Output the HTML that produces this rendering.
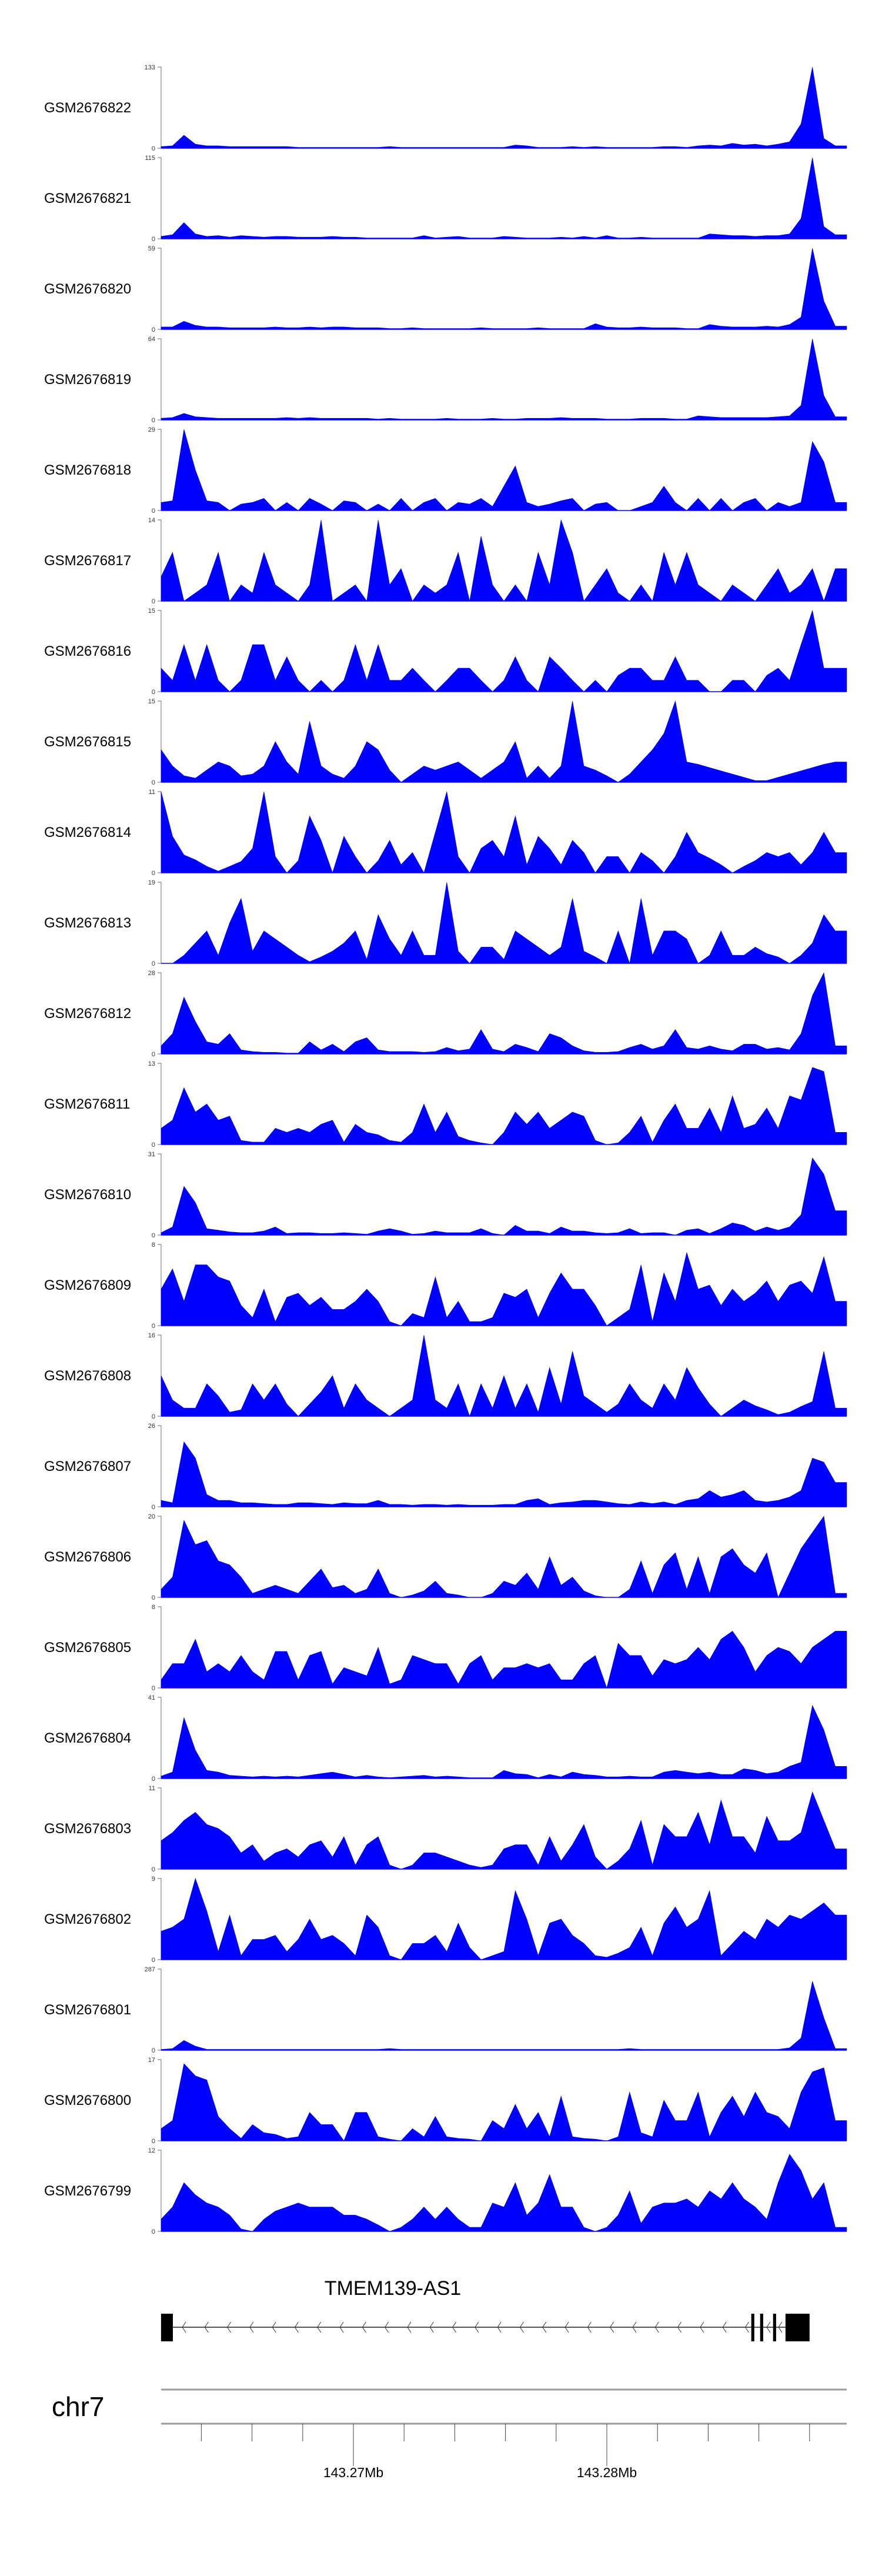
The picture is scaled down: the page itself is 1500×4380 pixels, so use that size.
<!DOCTYPE html>
<html><head><meta charset="utf-8"><style>
html,body{margin:0;padding:0;background:#fff;}
svg{display:block;font-family:"Liberation Sans",Arial,sans-serif;}
</style></head><body>
<svg id="chart" xmlns="http://www.w3.org/2000/svg" width="1500" height="4380" viewBox="0 0 1500 4380">
<rect x="0" y="0" width="1500" height="4380" fill="#fff"/>
<g id="tracks"></g>
<g id="gene">
<text x="668" y="3902" font-size="34" text-anchor="middle">TMEM139-AS1</text>
</g>
<g id="axis">
<text x="88" y="4108" font-size="46">chr7</text>
<line x1="274" y1="4063" x2="1440" y2="4063" stroke="#999" stroke-width="3"/>
<line x1="274" y1="4121" x2="1440" y2="4121" stroke="#999" stroke-width="3"/>
</g>
</svg>
<script>
const sampleNames = ["GSM2676822","GSM2676821","GSM2676820","GSM2676819","GSM2676818","GSM2676817","GSM2676816","GSM2676815","GSM2676814","GSM2676813","GSM2676812","GSM2676811","GSM2676810","GSM2676809","GSM2676808","GSM2676807","GSM2676806","GSM2676805","GSM2676804","GSM2676803","GSM2676802","GSM2676801","GSM2676800","GSM2676799"];
const yMaxLabels = [133,115,59,64,29,14,15,15,11,19,28,13,31,8,16,26,20,8,41,11,9,287,17,12];
// coverage values in percent of each track's axis maximum, 60 bins across the region
const cov822 = [2,3,16,5,3,3,2,2,2,2,2,2,1,1,1,1,1,1,1,1,2,1,1,1,1,1,1,1,1,1,1,4,3,1,1,1,2,1,2,1,1,1,1,1,2,2,1,3,4,3,6,4,5,3,5,8,30,100,12,3];
const cov821 = [3,5,20,6,3,4,2,4,3,2,3,3,2,2,2,3,2,2,1,1,1,1,1,4,1,2,3,1,1,1,3,2,1,1,1,2,1,3,1,4,1,1,2,1,1,1,1,1,6,5,4,4,3,4,4,6,25,100,15,5];
const cov820 = [3,3,10,5,3,3,2,2,2,2,3,2,2,3,2,3,3,2,2,2,1,1,2,1,1,1,1,1,2,1,1,1,1,2,1,1,1,1,7,3,2,2,3,2,2,2,1,1,6,4,3,3,3,4,3,6,15,100,35,4];
const cov819 = [2,3,8,4,3,2,2,2,2,2,2,3,2,3,2,2,2,2,2,1,2,1,1,1,1,2,1,1,1,2,1,1,2,2,2,3,2,2,2,1,1,1,2,2,2,1,1,5,4,3,3,3,3,3,4,5,18,100,30,4];
const cov818 = [10,12,100,50,12,10,0,8,10,15,0,10,0,15,8,0,12,10,0,8,0,15,0,10,15,0,10,8,15,5,30,55,10,5,8,12,15,0,8,10,0,0,5,10,30,10,0,15,0,15,0,10,15,0,10,5,10,85,60,10];
const cov817 = [30,60,0,10,20,60,0,20,10,60,20,10,0,20,100,0,10,20,0,100,20,40,0,20,10,20,60,0,80,20,0,20,0,60,20,100,60,0,20,40,10,0,20,0,60,20,60,20,10,0,20,10,0,20,40,10,20,40,0,40];
const cov816 = [29,14,58,14,58,14,0,14,58,58,14,43,14,0,14,0,14,58,14,58,14,14,29,14,0,14,29,29,14,0,14,43,14,0,43,29,14,0,14,0,20,29,29,14,14,43,14,14,0,0,14,14,0,20,29,14,58,100,29,29];
const cov815 = [40,20,8,5,15,25,20,8,10,20,50,25,10,75,20,10,5,20,50,40,15,0,10,20,15,20,25,15,5,15,25,50,5,20,5,20,100,20,15,8,0,10,25,40,60,100,25,22,18,14,10,6,2,2,6,10,14,18,22,25];
const cov814 = [100,45,22,16,8,2,8,14,30,100,20,0,15,70,40,0,45,20,0,15,40,10,25,0,50,100,20,0,30,40,20,70,10,45,30,10,40,25,0,20,20,0,25,15,0,20,50,25,18,10,0,8,15,25,20,25,10,25,50,25];
const cov813 = [0,0,10,25,40,10,50,80,15,40,30,20,10,2,8,15,25,40,5,60,30,10,40,10,10,100,15,0,20,20,5,40,30,20,10,20,80,15,8,0,40,0,80,10,40,40,30,0,10,40,10,10,20,12,8,0,10,25,60,40];
const cov812 = [10,25,70,40,15,12,25,5,3,2,2,1,1,15,5,12,3,15,20,5,3,3,3,2,3,8,4,6,30,6,3,12,8,3,25,20,10,4,2,2,3,8,12,6,10,30,8,6,10,6,4,12,12,6,8,5,25,72,100,10];
const cov811 = [20,30,70,40,50,30,35,5,3,3,20,15,20,15,25,30,3,25,15,12,5,3,15,50,15,40,10,5,2,0,15,40,25,40,20,30,40,35,5,0,2,15,35,3,30,50,20,20,45,15,60,20,25,45,20,60,55,95,90,15];
const cov810 = [3,10,60,40,8,6,4,3,3,5,10,2,3,3,2,2,3,2,1,5,8,5,1,2,5,3,3,3,8,2,0,12,5,5,2,10,5,5,3,2,3,8,2,3,3,0,6,8,2,8,15,12,5,10,6,10,25,95,75,30];
const cov809 = [45,70,30,75,75,60,55,25,10,45,5,35,40,25,35,20,20,30,45,30,5,0,15,10,60,10,30,5,5,10,40,35,45,10,40,65,45,45,25,0,10,20,75,5,65,30,90,45,50,25,45,30,40,55,30,50,55,40,85,30];
const cov808 = [50,20,10,10,40,25,5,8,40,20,40,15,0,15,30,50,10,40,20,10,0,10,20,100,20,10,40,0,40,10,50,10,40,5,60,15,80,25,15,5,15,40,20,10,40,20,60,35,15,0,10,20,13,8,2,5,12,18,80,10];
const cov807 = [8,5,80,60,15,8,8,5,5,4,3,3,5,5,4,3,5,4,4,8,3,3,2,3,3,2,3,2,2,2,3,3,8,10,3,5,6,8,8,6,4,3,6,4,6,3,8,10,20,12,15,20,8,6,8,12,20,60,55,30];
const cov806 = [10,25,95,65,70,45,40,25,5,10,15,10,5,20,35,12,15,5,10,35,5,0,3,8,20,5,3,0,0,5,20,15,30,10,50,15,25,8,2,0,0,10,45,5,40,55,10,50,5,50,60,40,30,55,0,30,60,80,100,5];
const cov805 = [10,30,30,60,20,30,20,40,20,10,45,45,10,40,45,5,25,20,15,50,5,10,40,35,30,30,5,30,40,10,25,25,30,25,30,10,10,30,40,0,55,40,40,15,35,30,35,50,35,60,70,50,20,40,50,45,30,50,60,70];
const cov804 = [3,8,75,35,10,8,4,3,2,3,2,3,2,4,6,8,5,2,4,2,1,2,3,4,2,3,2,1,1,1,10,6,5,1,5,2,8,5,4,2,2,3,2,2,8,10,8,6,8,5,5,12,10,6,8,15,20,90,60,15];
const cov803 = [35,45,60,70,55,50,40,20,30,10,20,25,15,30,35,15,40,5,30,40,5,0,5,20,20,15,10,5,2,5,25,30,30,5,40,10,30,55,15,0,10,25,60,5,55,40,40,70,30,85,40,40,20,65,35,35,45,95,60,25];
const cov802 = [35,40,50,100,60,10,55,5,25,25,30,10,25,50,25,30,20,5,55,40,5,0,20,20,30,10,45,15,0,5,10,85,50,5,45,50,30,20,5,3,8,15,40,5,45,65,40,50,85,5,20,35,25,50,40,55,50,60,70,55];
const cov801 = [1,2,12,5,1,1,1,1,1,1,1,1,1,1,1,1,1,1,1,1,2,1,1,1,1,1,1,1,1,1,1,1,1,1,1,1,1,1,1,1,1,2,1,1,1,1,1,1,1,1,1,1,1,1,1,3,15,85,40,2];
const cov800 = [15,25,95,80,75,30,15,3,20,10,8,3,5,35,20,20,0,35,35,5,2,0,15,5,30,5,3,2,0,25,15,45,15,35,5,55,5,3,2,0,5,60,10,5,50,25,25,60,5,35,55,30,60,35,30,15,60,85,90,25];
const cov799 = [15,30,60,45,35,30,20,3,0,15,25,30,35,30,30,30,20,20,15,8,0,5,15,30,15,30,15,5,5,35,30,60,20,35,70,30,30,5,0,5,20,50,10,30,35,35,40,30,50,40,60,40,30,15,60,95,75,40,60,5];
const coverage = [cov822,cov821,cov820,cov819,cov818,cov817,cov816,cov815,cov814,cov813,cov812,cov811,cov810,cov809,cov808,cov807,cov806,cov805,cov804,cov803,cov802,cov801,cov800,cov799];
const exonStarts = [143262410, 143285700, 143286050, 143286560, 143287050];
const exonEnds   = [143262877, 143285820, 143286170, 143286680, 143288000];
const axisTicks = [143264, 143266, 143268, 143270, 143272, 143274, 143276, 143278, 143280, 143282, 143284, 143286, 143288];
const axisLabels = ["143.27Mb","143.28Mb"];
const axisLabelKb = [143270, 143280];

const NS = "http://www.w3.org/2000/svg";
const PL = 274, PR = 1440, TOP0 = 114, PITCH = 154, TH = 138;
const NB = 60;
function xBin(i){ return PL + i * (PR - PL) / NB; }
function yVal(t, v){ const base = TOP0 + t*PITCH + TH; return base - v/100*TH; }
// genomic scale: 143.27Mb at x=601, 43.1 px per kb
function xKb(kb){ return 601 + (kb - 143270) * 43.1; }
function xBp(bp){ return xKb(bp/1000); }
function mk(tag, attrs){ const e = document.createElementNS(NS, tag); for (const k in attrs) e.setAttribute(k, attrs[k]); return e; }

const tg = document.getElementById('tracks');
coverage.forEach(function(vals, t){
  const g = mk('g', {});
  
  
  const top = TOP0 + t*PITCH, base = top + TH;
  const lab = mk('text', {x: 75, y: top + 77, 'font-size': 24});
  
  
  lab.textContent = sampleNames[t];
  g.appendChild(lab);
  const ax = mk('path', {d: 'M268 '+top+' H274 V'+base+' H268', fill:'none', stroke:'#888', 'stroke-width':1.2});
  
  
  g.appendChild(ax);
  const tmax = mk('text', {x: 264, y: top + 4, 'font-size': 11, 'text-anchor': 'end', fill:'#333'});
  
  
  tmax.textContent = yMaxLabels[t];
  g.appendChild(tmax);
  const t0 = mk('text', {x: 264, y: base + 4, 'font-size': 11, 'text-anchor': 'end', fill:'#333'});
  
  
  t0.textContent = '0';
  g.appendChild(t0);
  let d = 'M' + PL + ' ' + base;
  vals.forEach(function(v, i){ d += ' L' + xBin(i).toFixed(1) + ' ' + yVal(t, v).toFixed(1); });
  d += ' L' + PR + ' ' + yVal(t, vals[vals.length-1]).toFixed(1) + ' L' + PR + ' ' + base + ' Z';
  const area = mk('path', {d: d, fill: '#0000FF', stroke: '#0000CC', 'stroke-width': 0.6});
  
  
  g.appendChild(area);
  const bl = mk('line', {x1: PL, y1: base, x2: PR, y2: base, stroke: '#0000FF', 'stroke-width': 1.5});
  
  
  g.appendChild(bl);
  tg.appendChild(g);
});

// gene model
const gg = document.getElementById('gene');
const intron = mk('line', {x1: xBp(exonEnds[0]), y1: 3957, x2: xBp(exonStarts[4]), y2: 3957, stroke: '#222', 'stroke-width': 1.6});


gg.appendChild(intron);
for (let cx = 312; cx < xBp(exonStarts[1]) - 6; cx += 38.3) {
  const ch = mk('path', {d: 'M'+(cx+4)+' 3948 L'+(cx-2)+' 3957 L'+(cx+4)+' 3966', fill:'none', stroke:'#333', 'stroke-width':1});
  
  
  gg.appendChild(ch);
}
[1306, 1326].forEach(function(cx){
  const ch = mk('path', {d: 'M'+(cx+4)+' 3948 L'+(cx-2)+' 3957 L'+(cx+4)+' 3966', fill:'none', stroke:'#333', 'stroke-width':1});
  
  
  gg.appendChild(ch);
});
exonStarts.forEach(function(s, i){
  const x1 = xBp(s), x2 = xBp(exonEnds[i]);
  const r = mk('rect', {x: x1, y: 3934, width: Math.max(3, x2 - x1), height: 47, fill: '#000'});
  
  
  gg.appendChild(r);
});

// genome axis
const ag = document.getElementById('axis');
axisTicks.forEach(function(kb){
  const major = axisLabelKb.indexOf(kb) >= 0;
  const l = mk('line', {x1: xKb(kb), y1: 4121, x2: xKb(kb), y2: major ? 4193 : 4151, stroke: '#444', 'stroke-width': 1});
  
  
  ag.appendChild(l);
});
axisLabels.forEach(function(lb, i){
  const t = mk('text', {x: xKb(axisLabelKb[i]), y: 4212, 'font-size': 23, 'text-anchor': 'middle'});
  
  
  t.textContent = lb;
  ag.appendChild(t);
});
</script>
</body></html>
